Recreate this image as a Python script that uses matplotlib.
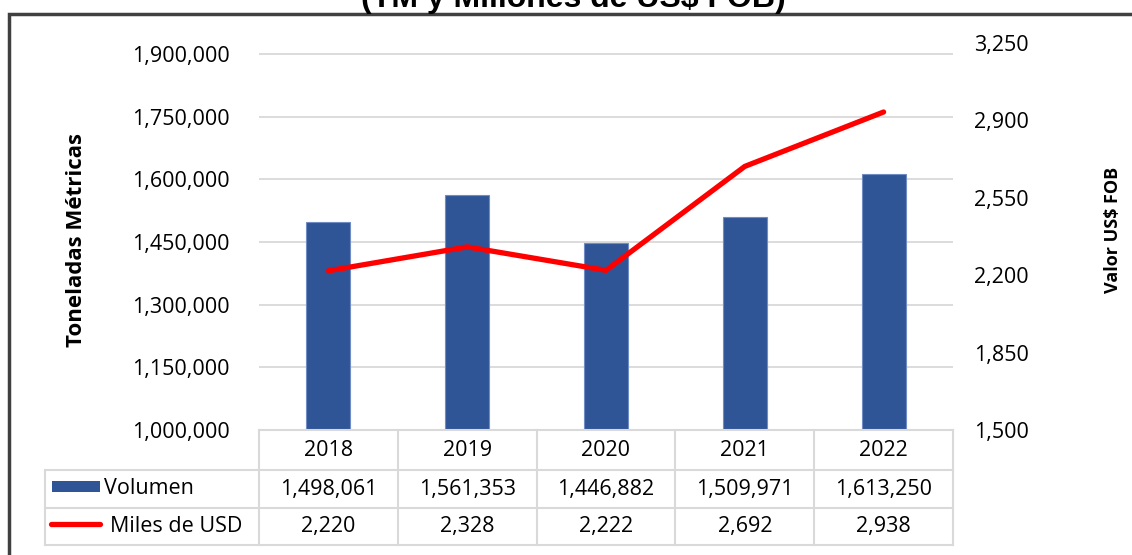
import matplotlib
matplotlib.use("Agg")
import matplotlib.pyplot as plt
from matplotlib.patches import Rectangle
from matplotlib.lines import Line2D
import matplotlib.transforms as mtransforms
from matplotlib.ticker import FuncFormatter

plt.rcParams['font.family'] = ['Open Sans', 'DejaVu Sans']

years = ["2018", "2019", "2020", "2021", "2022"]
volumen = [1498061, 1561353, 1446882, 1509971, 1613250]
miles_usd = [2220, 2328, 2222, 2692, 2938]
left_ticks = [1000000, 1150000, 1300000, 1450000, 1600000, 1750000, 1900000]
right_ticks = [1500, 1850, 2200, 2550, 2900, 3250]
title = "(TM y Millones de US$ FOB)"
ylabel_left = "Toneladas Métricas"
ylabel_right = "Valor US$ FOB"
row_labels = ["Volumen", "Miles de USD"]

W, H = 1132, 555
fig = plt.figure(figsize=(W / 100, H / 100), dpi=100)

def fy(py):
    return 1 - py / H

def fx(px):
    return px / W

BAR_COLOR = "#2F5597"
GRID = "#D9D9D9"
FS = 15.5

# axes area
x0, x1 = 259, 953
ytop, ybot = 43, 430
ax = fig.add_axes([fx(x0), fy(ybot), fx(x1) - fx(x0), fy(ytop) - fy(ybot)])
ax2 = ax.twinx()

xs = list(range(len(years)))
ax.bar(xs, volumen, width=0.317, color=BAR_COLOR, edgecolor="#6F8CC4", linewidth=0.8, zorder=2)
ax.set_xlim(-0.5, len(years) - 0.5)
ax.set_ylim(1000000, 1926300)
ax.set_yticks(left_ticks)
ax.yaxis.set_major_formatter(FuncFormatter(lambda v, p: f"{int(v):,}"))
ax.grid(axis="y", color=GRID, linewidth=1.3, zorder=0)
ax.set_axisbelow(True)
ax.set_xticks([])
ax.tick_params(axis="y", length=0, labelsize=FS, pad=21, colors="#000000")

ax2.plot(xs, miles_usd, color="#FF0000", linewidth=3.8, solid_capstyle="round", solid_joinstyle="miter", zorder=3)
ax2.set_ylim(1500, 3250)
ax2.set_yticks(right_ticks)
ax2.yaxis.set_major_formatter(FuncFormatter(lambda v, p: f"{int(v):,}"))
ax2.tick_params(axis="y", length=0, labelsize=FS, pad=15)

for a in (ax, ax2):
    for s in a.spines.values():
        s.set_visible(False)

# axis labels
fig.text(fx(76), fy(240), ylabel_left, rotation=90, fontsize=16, fontweight="bold",
         ha="center", va="center")
fig.text(fx(1113), fy(230), ylabel_right, rotation=90, fontsize=13, fontweight="bold",
         ha="center", va="center")

# title (partly above the top edge, as in the original)
fig.text(fx(573), fy(7), title, fontsize=23, fontweight="bold",
         family=["Liberation Sans", "DejaVu Sans"], ha="center", va="baseline")

# outer frame
fig.add_artist(Rectangle((fx(9), fy(600)), fx(1200), fy(14) - fy(600), transform=fig.transFigure,
                         fill=False, edgecolor="#404040", linewidth=2.5))

# data table
trans = mtransforms.blended_transform_factory(ax.transData, fig.transFigure)
bounds = [i - 0.5 for i in range(len(years) + 1)]
label_left = -0.5 + (45 - x0) / ((x1 - x0) / len(years))
r0, r1, r2, r3 = 430, 470, 508, 545
lw = 1.5
def hline(xa, xb, py):
    fig.add_artist(Line2D([xa, xb], [fy(py), fy(py)], transform=trans, color=GRID, linewidth=lw))
def vline(xd, pa, pb):
    fig.add_artist(Line2D([xd, xd], [fy(pa), fy(pb)], transform=trans, color=GRID, linewidth=lw))

hline(bounds[0], bounds[-1], r0)
hline(label_left, bounds[-1], r1)
hline(label_left, bounds[-1], r2)
hline(label_left, bounds[-1], r3)
for b in bounds:
    vline(b, r0, r3)
vline(label_left, r1, r3)

for i, yv in enumerate(years):
    fig.text(i, fy((r0 + r1) / 2), yv, transform=trans, ha="center", va="center", fontsize=FS)
    fig.text(i, fy((r1 + r2) / 2), f"{volumen[i]:,}", transform=trans, ha="center", va="center", fontsize=FS)
    fig.text(i, fy((r2 + r3) / 2), f"{miles_usd[i]:,}", transform=trans, ha="center", va="center", fontsize=FS)

# legend keys in the table
fig.add_artist(Rectangle((fx(52), fy(492)), fx(100) - fx(52), fy(481) - fy(492),
                         transform=fig.transFigure, facecolor=BAR_COLOR, edgecolor="none"))
fig.text(fx(104), fy((r1 + r2) / 2), row_labels[0], ha="left", va="center", fontsize=FS)
fig.add_artist(Line2D([fx(51), fx(100)], [fy(524), fy(524)], transform=fig.transFigure,
                      color="#FF0000", linewidth=3.8, solid_capstyle="round"))
fig.text(fx(110), fy((r2 + r3) / 2), row_labels[1], ha="left", va="center", fontsize=FS)

fig.savefig("out.png", dpi=100)
